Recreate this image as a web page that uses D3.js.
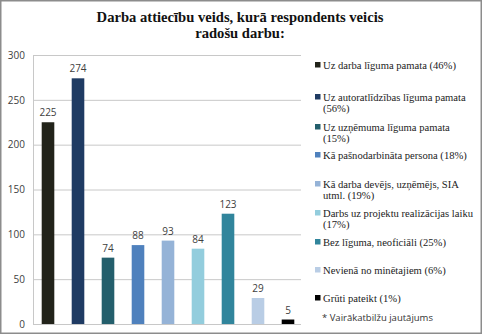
<!DOCTYPE html>
<html><head><meta charset="utf-8">
<script src="https://cdn.jsdelivr.net/npm/d3@7"></script>
<style>body{margin:0;background:#fff}svg{display:block}</style>
</head><body>
<script>
const categories = [
  "Uz darba līguma pamata (46%)",
  "Uz autoratlīdzības līguma pamata (56%)",
  "Uz uzņēmuma līguma pamata (15%)",
  "Kā pašnodarbināta persona (18%)",
  "Kā darba devējs, uzņēmējs, SIA utml. (19%)",
  "Darbs uz projektu realizācijas laiku (17%)",
  "Bez līguma, neoficiāli (25%)",
  "Nevienā no minētajiem (6%)",
  "Grūti pateikt (1%)"
];
const legendLines = [
  ["Uz darba līguma pamata (46%)"],
  ["Uz autoratlīdzības līguma pamata", "(56%)"],
  ["Uz uzņēmuma līguma pamata", "(15%)"],
  ["Kā pašnodarbināta persona (18%)"],
  ["Kā darba devējs, uzņēmējs, SIA", "utml. (19%)"],
  ["Darbs uz projektu realizācijas laiku", "(17%)"],
  ["Bez līguma, neoficiāli (25%)"],
  ["Nevienā no minētajiem (6%)"],
  ["Grūti pateikt (1%)"]
];
const values = [225, 274, 74, 88, 93, 84, 123, 29, 5];
const colors = ["#22231a", "#1f3b63", "#245f6c", "#4f81bd", "#95b3d7", "#93cddd", "#31859c", "#b9cde5", "#000000"];
const yTicks = [0, 50, 100, 150, 200, 250, 300];
const titleLines = ["Darba attiecību veids, kurā respondents veicis", "radošu darbu:"];
const note = "* Vairākatbilžu jautājums";

const W = 482, H = 335;
const svg = d3.select("body").append("svg").attr("width", W).attr("height", H);
svg.append("rect").attr("x", 0.75).attr("y", 0.75).attr("width", W - 1.5).attr("height", H - 2.5)
  .attr("fill", "#fff").attr("stroke", "#8c8c8c").attr("stroke-width", 1.5);

svg.append("g").selectAll("text").data(titleLines).join("text")
  .attr("x", 240).attr("y", (d, i) => 22 + i * 16)
  .attr("text-anchor", "middle")
  .attr("font-family", "Liberation Serif, Times New Roman, serif")
  .attr("font-weight", "bold").attr("font-size", 14.6).attr("fill", "#111")
  .text(d => d);

const x = d3.scaleBand().domain(d3.range(values.length)).range([33, 303]).paddingInner(0.58).paddingOuter(0.29);
const y = d3.scaleLinear().domain([0, 300]).range([324, 55]);

const gAxis = svg.append("g").attr("transform", "translate(33,0)");
gAxis.call(d3.axisLeft(y).tickValues(yTicks).tickSize(-268).tickPadding(8));
gAxis.select(".domain").remove();
gAxis.selectAll(".tick line").attr("stroke", "#c8c8c8").attr("stroke-width", 1);
gAxis.selectAll(".tick text").attr("font-family", "Open Sans, DejaVu Sans, sans-serif")
  .attr("font-size", 10).attr("fill", "#404040");
svg.append("line").attr("x1", 33.5).attr("x2", 33.5).attr("y1", 55).attr("y2", 324).attr("stroke", "#c8c8c8");

svg.append("g").selectAll("rect").data(values).join("rect")
  .attr("x", (d, i) => x(i)).attr("width", x.bandwidth())
  .attr("y", d => y(d)).attr("height", d => y(0) - y(d))
  .attr("fill", (d, i) => colors[i]);

svg.append("g").selectAll("text").data(values).join("text")
  .attr("x", (d, i) => x(i) + x.bandwidth() / 2).attr("y", d => y(d) - 6)
  .attr("text-anchor", "middle")
  .attr("font-family", "Open Sans, DejaVu Sans, sans-serif").attr("font-size", 10).attr("fill", "#404040")
  .text(d => d);

const legendY = [69, 101, 131, 159, 188, 217, 246, 274, 302];
const lg = svg.append("g");
legendLines.forEach((lines, i) => {
  lg.append("rect").attr("x", 315).attr("y", legendY[i] - 7).attr("width", 5.5).attr("height", 5.5).attr("fill", colors[i]);
  lines.forEach((t, j) => {
    lg.append("text").attr("x", 323).attr("y", legendY[i] + j * 11)
      .attr("font-family", "Liberation Serif, Times New Roman, serif").attr("font-size", 10.6).attr("fill", "#222")
      .text(t);
  });
});
svg.append("text").attr("x", 322).attr("y", 321)
  .attr("font-family", "Open Sans, DejaVu Sans, sans-serif").attr("font-size", 9.5).attr("fill", "#333")
  .text(note);
</script>
</body></html>
